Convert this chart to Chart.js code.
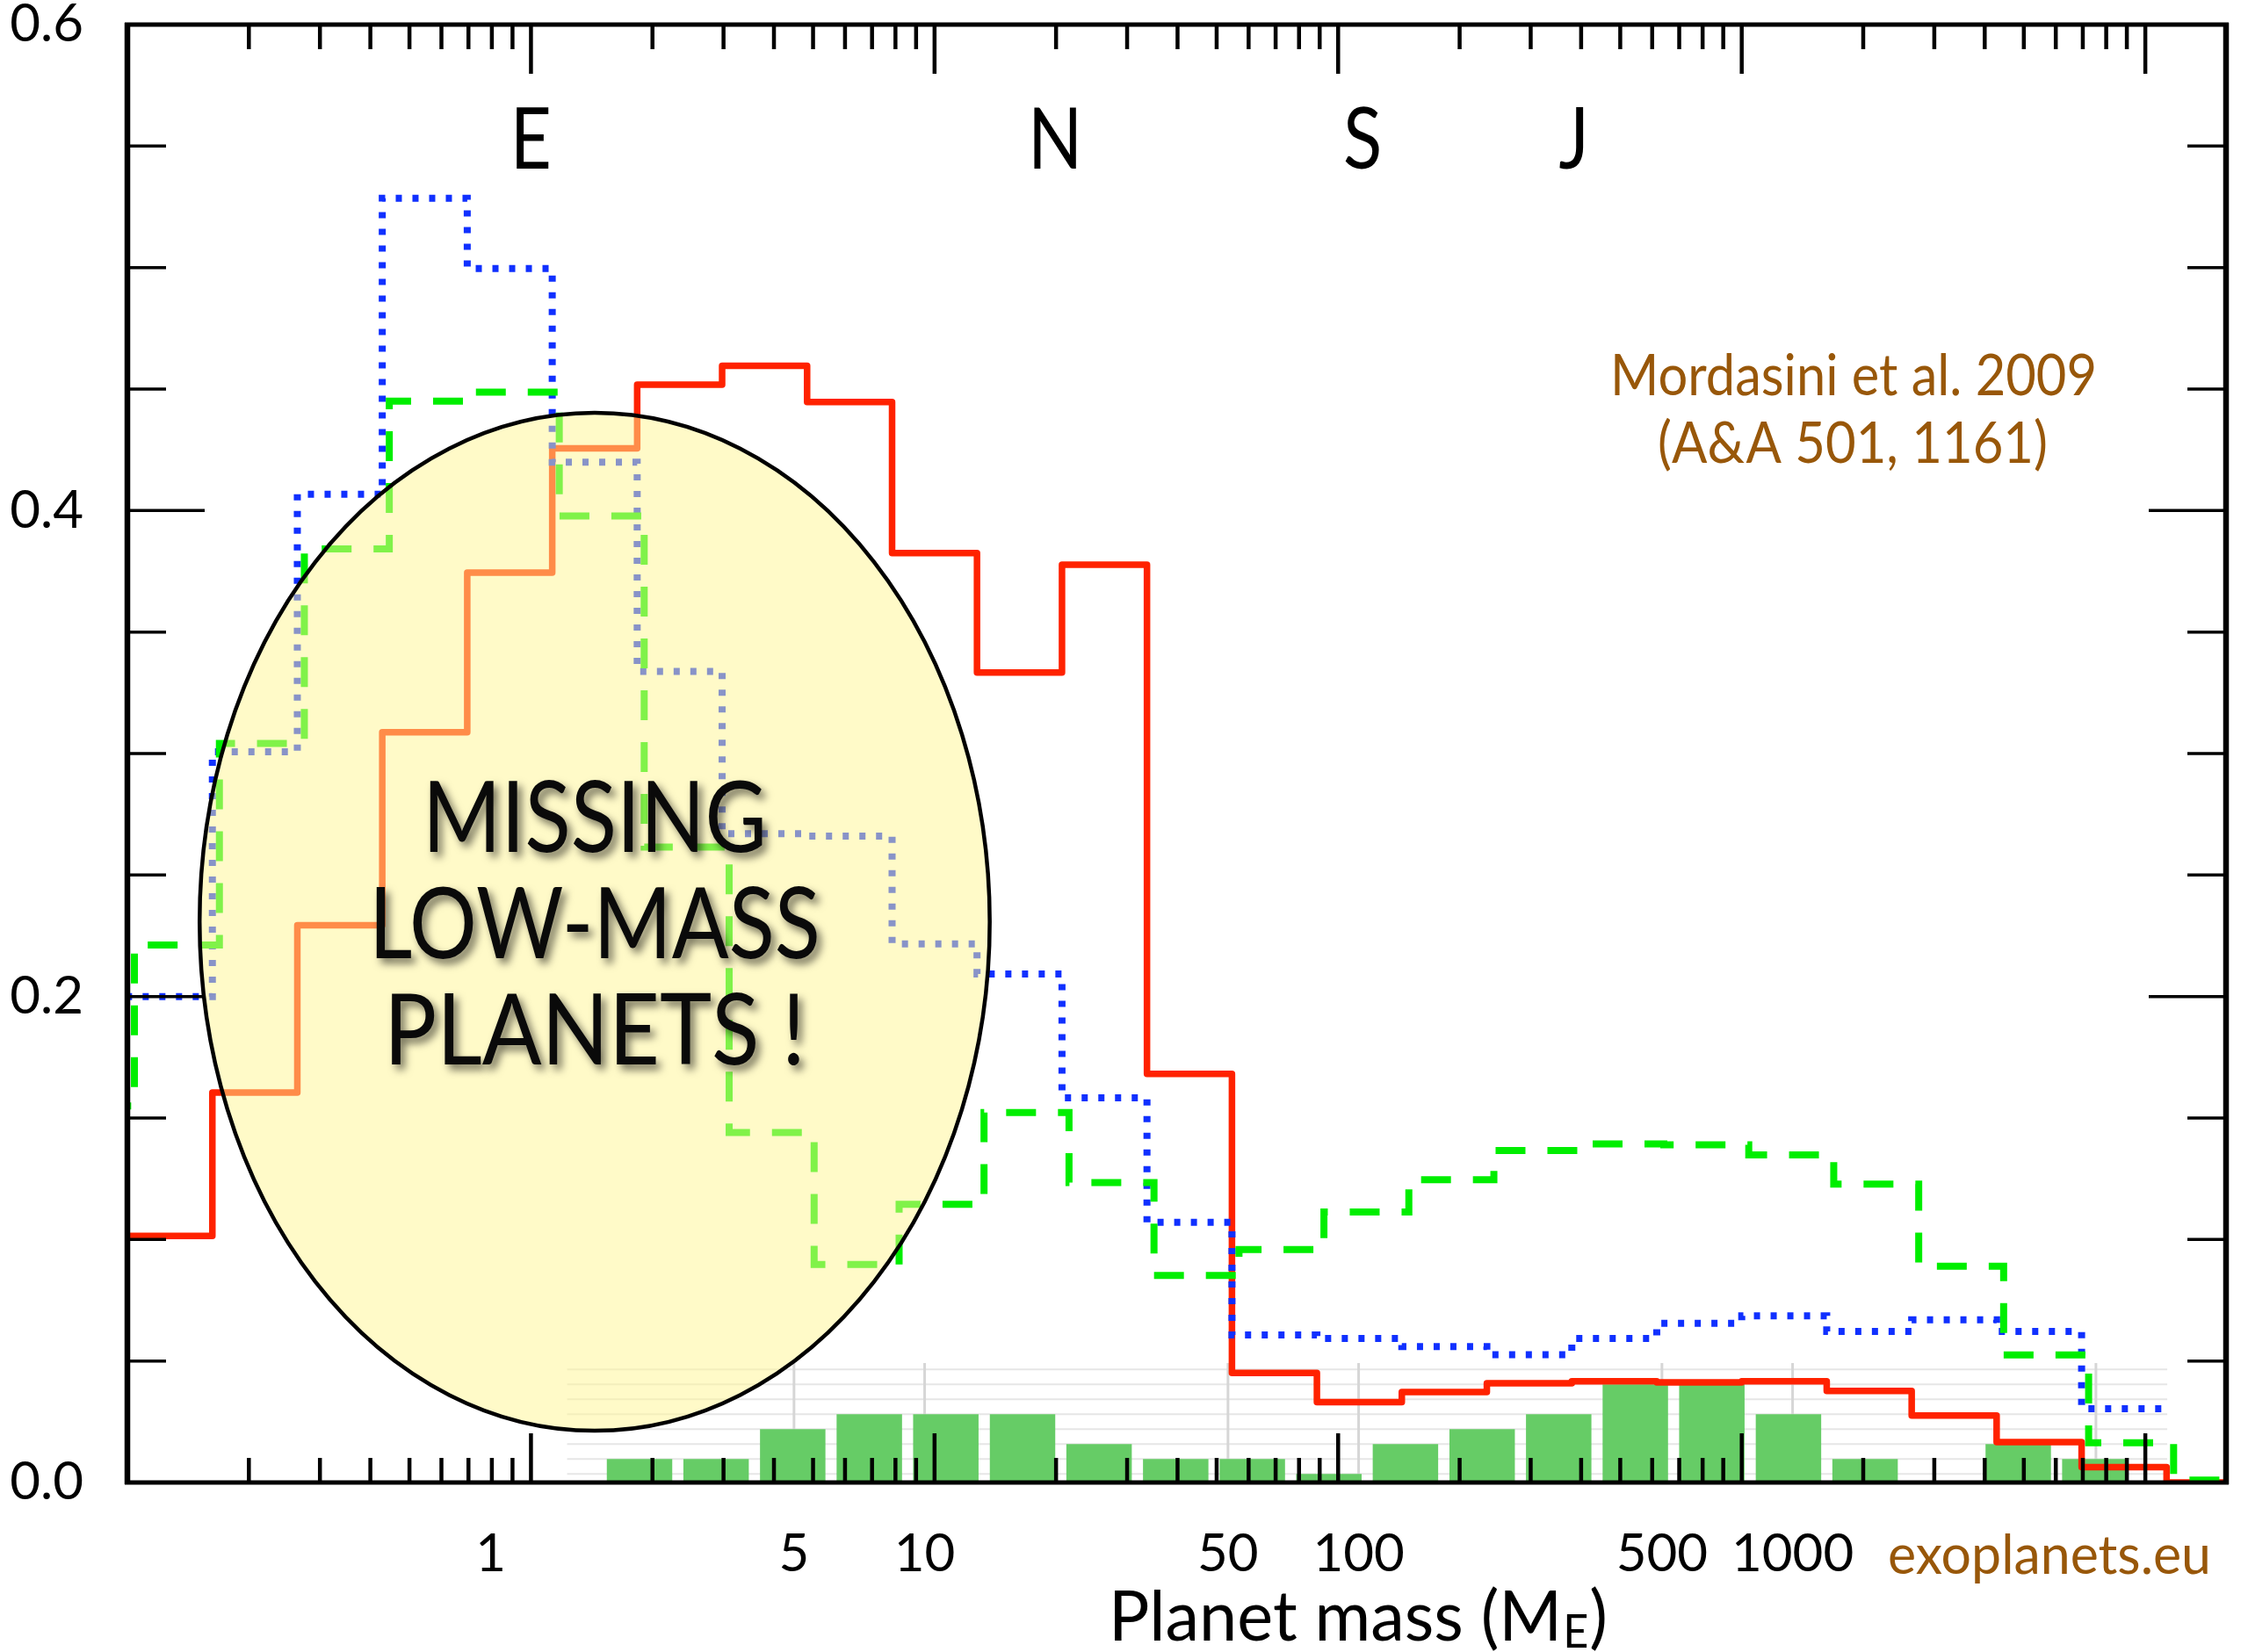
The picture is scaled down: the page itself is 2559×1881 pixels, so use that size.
<!DOCTYPE html>
<html>
<head>
<meta charset="utf-8">
<script src="https://cdn.jsdelivr.net/npm/chart.js@4.4.1/dist/chart.umd.min.js"></script>
<style>
  html, body { margin: 0; padding: 0; background: #ffffff; }
  canvas { display: block; }
</style>
</head>
<body>
<canvas id="chart" width="2559" height="1881"></canvas>
<script>
// ---------------- DATA ----------------
// Bin edges (Earth masses) of the synthetic-population histograms (first edge is a bin left of the plot)
const massEdges = [0.0616, 0.1, 0.1624, 0.2637, 0.4281, 0.6952, 1.129, 1.833, 2.976, 4.833, 7.848,
  12.74, 20.69, 33.60, 54.56, 88.59, 143.8, 233.6, 379.3, 615.8, 1000, 1624, 2637, 4281, 6952, 11290, 20000];

// Values of each bin (one per interval between consecutive edges)
const redValues = [0.1015, 0.1015, 0.1605, 0.2293, 0.3088, 0.3745, 0.4256, 0.4518, 0.4596, 0.4447,
  0.3825, 0.3333, 0.3777, 0.1682, 0.0451, 0.0331, 0.0372, 0.0408, 0.0417, 0.0412,
  0.0417, 0.0377, 0.0276, 0.0166, 0.0063, 0];
const greenValues = [0.155, 0.2212, 0.3042, 0.3842, 0.4450, 0.4487, 0.3978, 0.2615, 0.1440, 0.0897,
  0.1145, 0.1523, 0.1234, 0.0852, 0.0959, 0.1113, 0.1246, 0.1366, 0.1393, 0.1390,
  0.1348, 0.1228, 0.0890, 0.0525, 0.0164, 0.0010];
const blueValues = [0.2, 0.2, 0.3007, 0.4067, 0.5285, 0.4996, 0.4199, 0.3338, 0.2670, 0.2660,
  0.2217, 0.2093, 0.1583, 0.1071, 0.0607, 0.0593, 0.0559, 0.0526, 0.0593, 0.0655,
  0.0686, 0.0622, 0.0670, 0.0622, 0.0304, null];

// Observed (exoplanets.eu) inset histogram: bin centres (Earth masses) and counts
const obsMass = [2.203, 3.307, 4.966, 7.456, 11.19, 16.81, 25.23, 37.89, 56.89, 85.42,
  128.2, 192.6, 289.1, 434.1, 651.6, 978.4, 1469, 2205, 3311, 4971];
const obsCount = [2, 2, 4, 5, 5, 5, 3, 2, 2, 1, 3, 4, 5, 7, 7, 5, 2, 0, 3, 2];
const obsTicks = [1, 5, 10, 50, 100, 500, 1000];
const obsGridMasses = [5, 10, 50, 100, 500, 1000, 5000];
const obsGridCounts = [1, 2, 3, 4, 5, 6, 7, 8];
const obsPanelExtent = [1.5, 7300, 8.42];   // mass from, mass to, count top

// Y tick values (labels only on multiples of 0.2)
const yTickValues = [0, 0.05, 0.1, 0.15, 0.2, 0.25, 0.3, 0.35, 0.4, 0.45, 0.5, 0.55, 0.6];

// Planet reference letters (Earth, Neptune, Saturn, Jupiter)
const planetLetters = ['E', 'N', 'S', 'J'];
const planetLetterMass = [1.0, 19.9, 115, 384];

// Highlight ellipse (mass range, fraction range)
const ellipseBox = { massMin: 0.151, massMax: 13.7, fracMin: 0.0213, fracMax: 0.4402 };

// ---------------- HELPERS ----------------
function stepPoints(vals) {
  const pts = [];
  for (let i = 0; i < vals.length; i++) {
    if (vals[i] === null) { pts.push({ x: massEdges[i], y: vals[i - 1] }); return pts; }
    pts.push({ x: massEdges[i], y: vals[i] });
  }
  pts.push({ x: massEdges[vals.length], y: vals[vals.length - 1] });
  return pts;
}
function isMajorY(v) { return Math.abs(v * 5 - Math.round(v * 5)) < 1e-6; }
function seg(ctx, x1, y1, x2, y2) { ctx.beginPath(); ctx.moveTo(x1, y1); ctx.lineTo(x2, y2); ctx.stroke(); }
function fitText(ctx, text, x, y, px, color, targetW, align, weight) {
  ctx.save();
  ctx.font = (weight || 'normal') + ' ' + px + 'px Lato';
  const w = ctx.measureText(text).width;
  const sx = targetW ? targetW / w : 1;
  ctx.translate(x, y);
  ctx.scale(sx, 1);
  ctx.textAlign = align || 'center';
  ctx.textBaseline = 'alphabetic';
  ctx.fillStyle = color;
  ctx.fillText(text, 0, 0);
  ctx.restore();
}

const BROWN = '#985709';

const decor = {
  id: 'decor',
  beforeDatasetsDraw(chart) {
    const { ctx, chartArea: a } = chart;
    const x2 = chart.scales.x2, y2 = chart.scales.y2;
    const l = x2.getPixelForValue(obsPanelExtent[0]);
    const r = x2.getPixelForValue(obsPanelExtent[1]);
    const t = y2.getPixelForValue(obsPanelExtent[2]);
    ctx.save();
    ctx.beginPath(); ctx.rect(a.left, a.top, a.right - a.left, a.bottom - a.top); ctx.clip();
    ctx.lineWidth = 2; ctx.strokeStyle = '#e6e6e6';
    obsGridCounts.forEach(v => { const p = y2.getPixelForValue(v); seg(ctx, l, p, r, p); });
    ctx.lineWidth = 3; ctx.strokeStyle = '#d6d6d6';
    obsGridMasses.forEach(v => { const p = x2.getPixelForValue(v); seg(ctx, p, t, p, a.bottom); });
    ctx.restore();
  },
  beforeDatasetDraw(chart, args) {
    if (args.index === 0) { chart.ctx.save(); chart.ctx.translate(8, 0); }
  },
  afterDatasetDraw(chart, args) {
    if (args.index === 0) { chart.ctx.restore(); }
  },
  afterDatasetsDraw(chart) {
    const { ctx } = chart;
    const x = chart.scales.x, y = chart.scales.y;
    // ellipse
    const x1 = x.getPixelForValue(ellipseBox.massMin), x2p = x.getPixelForValue(ellipseBox.massMax);
    const yb = y.getPixelForValue(ellipseBox.fracMin), yt = y.getPixelForValue(ellipseBox.fracMax);
    const cx = (x1 + x2p) / 2, cy = (yb + yt) / 2, rx = (x2p - x1) / 2, ry = (yb - yt) / 2;
    ctx.save();
    ctx.beginPath();
    ctx.ellipse(cx, cy, rx, ry, 0, 0, Math.PI * 2);
    ctx.fillStyle = 'rgba(255,245,145,0.5)';
    ctx.fill();
    ctx.lineWidth = 4.5;
    ctx.strokeStyle = '#000';
    ctx.stroke();
    ctx.restore();
    // text in ellipse with shadow
    ctx.save();
    ctx.shadowColor = 'rgba(0,0,0,0.55)';
    ctx.shadowBlur = 10;
    ctx.shadowOffsetX = 5;
    ctx.shadowOffsetY = 6;
    fitText(ctx, 'MISSING', cx, cy - 80, 112, '#0a0a0a', 392, 'center');
    fitText(ctx, 'LOW-MASS', cx, cy + 41, 112, '#0a0a0a', 514, 'center');
    fitText(ctx, 'PLANETS !', cx, cy + 162, 112, '#0a0a0a', 480, 'center');
    ctx.restore();
    // planet letters
    planetLetters.forEach((lab, i) => {
      const px = x.getPixelForValue(planetLetterMass[i]);
      ctx.save();
      ctx.font = '96px Lato';
      ctx.translate(px, 192);
      ctx.scale(0.85, 1);
      ctx.textAlign = 'center';
      ctx.fillStyle = '#000';
      ctx.fillText(lab, 0, 0);
      ctx.restore();
    });
  },
  afterDraw(chart) {
    const { ctx, chartArea: a } = chart;
    const x = chart.scales.x, y = chart.scales.y;
    ctx.save();
    ctx.strokeStyle = '#000';
    ctx.lineCap = 'butt';
    // log ticks, inward on top and bottom
    ctx.lineWidth = 4.5;
    for (let e = -1; e <= 4; e++) {
      for (let m = 1; m <= 9; m++) {
        const v = m * Math.pow(10, e);
        if (v <= x.min * 1.0001 || v >= x.max) continue;
        const p = x.getPixelForValue(v);
        const len = m === 1 ? 56 : 28;
        seg(ctx, p, a.bottom, p, a.bottom - len);
        seg(ctx, p, a.top, p, a.top + len);
      }
    }
    // y ticks, inward on left and right
    ctx.lineWidth = 3.5;
    yTickValues.forEach(v => {
      const p = y.getPixelForValue(v);
      const len = isMajorY(v) ? 88 : 44;
      seg(ctx, a.left, p, a.left + len, p);
      seg(ctx, a.right, p, a.right - len, p);
    });
    // frame
    ctx.lineWidth = 5;
    seg(ctx, a.left - 3, a.top, a.right + 3, a.top);
    seg(ctx, a.left - 3, a.bottom, a.right + 3, a.bottom);
    ctx.lineWidth = 6.5;
    seg(ctx, a.left, a.top - 2, a.left, a.bottom + 2);
    seg(ctx, a.right, a.top - 2, a.right, a.bottom + 2);
    ctx.restore();

    // reference text
    fitText(ctx, 'Mordasini et al. 2009', 2110, 450, 65, BROWN, 554, 'center');
    fitText(ctx, '(A&A 501, 1161)', 2109, 527, 65, BROWN, 444, 'center');
    fitText(ctx, 'exoplanets.eu', 2517, 1792, 61, BROWN, 368, 'right');

    // axis title with subscript
    ctx.save();
    ctx.font = '80px Lato';
    const w1 = ctx.measureText('Planet mass (M').width;
    const w3 = ctx.measureText(')').width;
    ctx.font = '52px Lato';
    const w2 = ctx.measureText('E').width + 2;
    const sx = 568 / (w1 + w2 + w3);
    ctx.translate(1262, 1868);
    ctx.scale(sx, 1);
    ctx.fillStyle = '#000';
    ctx.textAlign = 'left';
    ctx.font = '80px Lato';
    ctx.fillText('Planet mass (M', 0, 0);
    ctx.font = '52px Lato';
    ctx.fillText('E', w1 + 1, 8);
    ctx.font = '80px Lato';
    ctx.fillText(')', w1 + w2, 0);
    ctx.restore();
  }
};

new Chart(document.getElementById('chart').getContext('2d'), {
  type: 'line',
  data: {
    datasets: [
      {
        label: 'green', data: stepPoints(greenValues), stepped: true,
        borderColor: '#00ee00', borderWidth: 8, borderDash: [34, 25], borderCapStyle: 'butt',
        pointRadius: 0, fill: false, xAxisID: 'x', yAxisID: 'y',
        clip: { left: 8, right: -8, top: 6, bottom: 6 }
      },
      {
        label: 'blue', data: stepPoints(blueValues), stepped: true,
        borderColor: '#1030ff', borderWidth: 8, borderDash: [7, 12], borderCapStyle: 'butt',
        pointRadius: 0, fill: false, xAxisID: 'x', yAxisID: 'y'
      },
      {
        label: 'red', data: stepPoints(redValues), stepped: true,
        borderColor: '#ff2200', borderWidth: 7.5, borderJoinStyle: 'round',
        pointRadius: 0, fill: false, xAxisID: 'x', yAxisID: 'y'
      },
      {
        type: 'bar', label: 'observed',
        data: obsMass.map((m, i) => ({ x: m, y: obsCount[i] })),
        backgroundColor: '#66cc66', borderWidth: 0, grouped: false,
        barPercentage: 0.855, categoryPercentage: 1.0,
        xAxisID: 'x2', yAxisID: 'y2', clip: 0
      }
    ]
  },
  options: {
    responsive: false,
    animation: false,
    devicePixelRatio: 1,
    events: [],
    layout: { padding: { top: 28, right: 25, left: 0, bottom: 0 } },
    plugins: { legend: { display: false }, tooltip: { enabled: false } },
    scales: {
      x: { type: 'logarithmic', position: 'bottom', min: 0.1, max: 15849, display: false },
      x2: {
        type: 'logarithmic', position: 'bottom', min: 0.1455, max: 9972,
        grid: { display: false, drawTicks: false }, border: { display: false },
        afterBuildTicks(s) { s.ticks = obsTicks.map(v => ({ value: v })); },
        afterFit(s) { s.height = 193; s.paddingLeft = 0; s.paddingRight = 0; },
        ticks: {
          autoSkip: false, maxRotation: 0, minRotation: 0, padding: 46, color: '#000',
          font: { family: 'Lato', size: 60 },
          callback: (v) => String(v)
        }
      },
      y: {
        type: 'linear', position: 'left', min: 0, max: 0.6,
        grid: { display: false, drawTicks: false }, border: { display: false },
        afterBuildTicks(s) { s.ticks = yTickValues.map(v => ({ value: v })); },
        afterFit(s) { s.width = 145; s.paddingTop = 0; s.paddingBottom = 0; },
        ticks: {
          autoSkip: false, padding: 50, color: '#000',
          font: { family: 'Lato', size: 60 },
          callback: (v) => isMajorY(v) ? v.toFixed(1) : ''
        }
      },
      y2: { type: 'linear', position: 'right', min: 0.434, max: 97.9, display: false }
    }
  },
  plugins: [decor]
});
</script>
</body>
</html>
